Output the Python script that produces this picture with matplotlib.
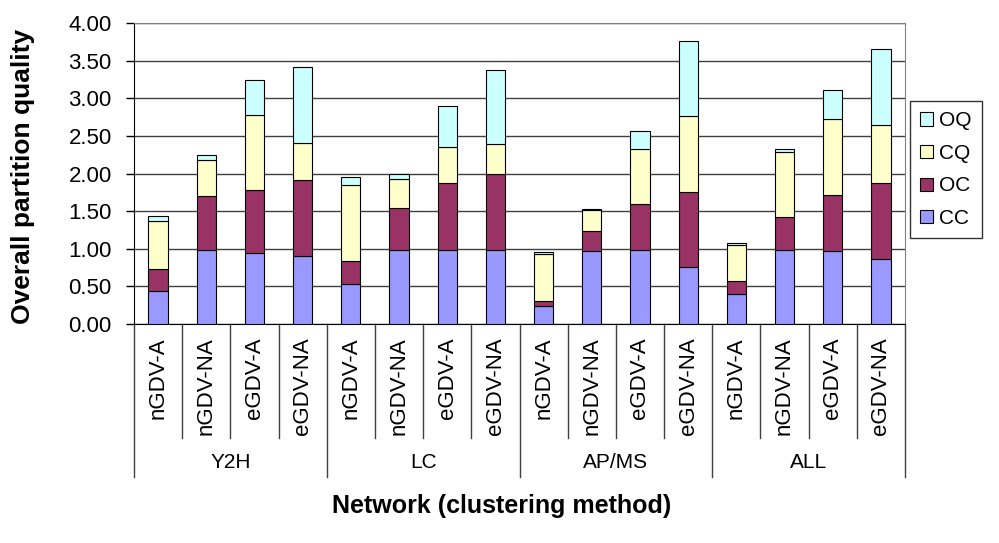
import matplotlib
matplotlib.use('Agg')
import matplotlib.pyplot as plt
import matplotlib.transforms as mtransforms
import numpy as np

plt.rcParams['font.family'] = ['Liberation Sans', 'DejaVu Sans']

# data
groups = ['Y2H', 'LC', 'AP/MS', 'ALL']
methods = ['nGDV-A', 'nGDV-NA', 'eGDV-A', 'eGDV-NA']
cc = [0.44, 0.99, 0.95, 0.91, 0.53, 0.98, 0.98, 0.99,
      0.24, 0.97, 0.99, 0.76, 0.40, 0.99, 0.97, 0.87]
oc = [0.29, 0.71, 0.83, 1.00, 0.31, 0.56, 0.90, 1.01,
      0.07, 0.27, 0.61, 0.99, 0.17, 0.43, 0.75, 1.01]
cq = [0.64, 0.48, 1.00, 0.50, 1.01, 0.39, 0.47, 0.39,
      0.62, 0.27, 0.72, 1.01, 0.48, 0.87, 1.00, 0.77]
oq = [0.07, 0.07, 0.46, 1.00, 0.11, 0.07, 0.55, 0.99,
      0.03, 0.02, 0.24, 1.00, 0.03, 0.03, 0.39, 1.00]

series = [('CC', cc, '#9999FF'), ('OC', oc, '#993366'),
          ('CQ', cq, '#FFFFCC'), ('OQ', oq, '#CCFFFF')]

fig = plt.figure(figsize=(9.99, 5.43), dpi=100)
ax = fig.add_axes([134 / 999, 1 - 324 / 543, 771 / 999, 301 / 543])

x = np.arange(len(cc))
bottom = np.zeros(len(cc))
handles = []
for name, vals, col in series:
    b = ax.bar(x, vals, width=0.4, bottom=bottom, color=col,
               edgecolor='black', linewidth=0.8, label=name, zorder=3)
    handles.append(b)
    bottom += np.array(vals)

ax.set_xlim(-0.5, len(cc) - 0.5)
ax.set_ylim(0, 4)
ax.set_yticks(np.arange(0, 4.01, 0.5))
ax.set_yticklabels([f'{v:.2f}' for v in np.arange(0, 4.01, 0.5)], fontsize=16)
ax.tick_params(axis='y', direction='out', length=6, width=1, pad=10)
ax.set_xticks([])
ax.yaxis.grid(True, color='#404040', linewidth=1, zorder=0)
ax.set_axisbelow(True)
for s in ['top', 'right']:
    ax.spines[s].set_color('#808080')
for s in ['left', 'bottom']:
    ax.spines[s].set_color('black')

# category table under the axis
trans = mtransforms.blended_transform_factory(ax.transData, ax.transAxes)
for i in range(len(cc) + 1):
    xb = i - 0.5
    depth = -0.508 if i % len(methods) == 0 else -0.378
    ax.plot([xb, xb], [0, depth], color='#404040', lw=1,
            transform=trans, clip_on=False)
for i in range(len(cc)):
    ax.text(i, -0.045, methods[i % len(methods)], rotation=90,
            ha='center', va='top', fontsize=16, transform=trans)
for g, name in enumerate(groups):
    xc = g * len(methods) + (len(methods) - 1) / 2
    ax.text(xc, -0.46, name, ha='center', va='center', fontsize=15,
            transform=trans)

ax.set_ylabel('Overall partition quality', fontsize=19, fontweight='bold')
ax.yaxis.set_label_coords(-0.128, 0.49)
fig.text(502 / 999, 1 - 506 / 543, 'Network (clustering method)',
         ha='center', va='center', fontsize=18, fontweight='bold')

leg = fig.legend(handles[::-1], [s[0] for s in series][::-1],
                 loc='upper left', bbox_to_anchor=(910 / 999, 1 - 101 / 543),
                 fontsize=15, frameon=True, fancybox=False, edgecolor='black',
                 handlelength=0.6, handleheight=0.6, handletextpad=0.3,
                 labelspacing=0.65, borderpad=0.5, borderaxespad=0)
leg.get_frame().set_linewidth(1)

plt.savefig('out.png', dpi=100)
